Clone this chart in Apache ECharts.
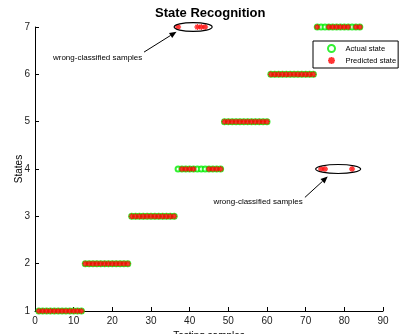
<!DOCTYPE html>
<html><head><meta charset="utf-8">
<script src="https://cdn.jsdelivr.net/npm/echarts@6/dist/echarts.min.js"></script>
<style>html,body{margin:0;padding:0;background:#fff}#c{width:400px;height:334px}</style>
</head><body><div id="c"></div>
<script>
var titleText = 'State Recognition';
var xName = 'Testing samples';
var yName = 'States';
var seriesNames = ['Actual state', 'Predicted state'];
var actualState = [
 1,1,1,1,1,1,1,1,1,1,1,1,
 2,2,2,2,2,2,2,2,2,2,2,2,
 3,3,3,3,3,3,3,3,3,3,3,3,
 4,4,4,4,4,4,4,4,4,4,4,4,
 5,5,5,5,5,5,5,5,5,5,5,5,
 6,6,6,6,6,6,6,6,6,6,6,6,
 7,7,7,7,7,7,7,7,7,7,7,7
];
var predictedState = [
 1,1,1,1,1,1,1,1,1,1,1,1,
 2,2,2,2,2,2,2,2,2,2,2,2,
 3,3,3,3,3,3,3,3,3,3,3,3,
 7,4,4,4,4,7,7,7,4,4,4,4,
 5,5,5,5,5,5,5,5,5,5,5,5,
 6,6,6,6,6,6,6,6,6,6,6,6,
 7,4,4,7,7,7,7,7,7,4,7,7
];
var xTicks = [0,10,20,30,40,50,60,70,80,90];
var yTicks = [1,2,3,4,5,6,7];
var annotationText = 'wrong-classified samples';

var FONT = '"Liberation Sans", Arial, Helvetica, sans-serif';
var chart = echarts.init(document.getElementById('c'));
function pts(arr){ return arr.map(function(v,i){ return [i+1, v]; }); }
var star = 'path://M0,-1L0,1M-1,0L1,0M-0.7,-0.7L0.7,0.7M-0.7,0.7L0.7,-0.7';
chart.setOption({
  animation:false,
  title:{text:titleText,left:155,top:7,padding:0,textStyle:{fontFamily:FONT,fontSize:13,fontWeight:'bold',color:'#000'}},
  grid:{left:35,right:17,top:27,bottom:23,containLabel:false,outerBoundsMode:'none'},
  legend:{orient:'vertical',left:313,top:41,borderColor:'#000',borderWidth:1,padding:[3,2,3,14],itemGap:3,itemWidth:10,itemHeight:7,
    textStyle:{fontFamily:FONT,fontSize:7.6,color:'#000',padding:[0,0,0,4]},data:[{name:seriesNames[0]},{name:seriesNames[1]}]},
  xAxis:{type:'value',min:xTicks[0],max:xTicks[xTicks.length-1],interval:10,name:xName,nameLocation:'middle',nameGap:20,nameMoveOverlap:false,
    nameTextStyle:{fontFamily:FONT,fontSize:10,color:'#000'},
    axisLine:{lineStyle:{color:'#000',width:1}},axisTick:{inside:true,length:4,lineStyle:{color:'#000'}},
    axisLabel:{fontFamily:FONT,fontSize:10,color:'#222',margin:5},splitLine:{show:false}},
  yAxis:{type:'value',min:yTicks[0],max:yTicks[yTicks.length-1],interval:1,name:yName,nameLocation:'middle',nameGap:11,nameMoveOverlap:false,
    nameTextStyle:{fontFamily:FONT,fontSize:10,color:'#000'},
    axisLine:{show:true,lineStyle:{color:'#000',width:1}},axisTick:{show:true,inside:true,length:4,lineStyle:{color:'#000'}},
    axisLabel:{fontFamily:FONT,fontSize:10,color:'#222',margin:5},splitLine:{show:false}},
  series:[
    {name:seriesNames[0],type:'scatter',data:pts(actualState),symbol:'emptyCircle',symbolSize:5,
      itemStyle:{color:'#00ee00',borderColor:'#00ee00',borderWidth:1},z:2},
    {name:seriesNames[1],type:'scatter',data:pts(predictedState),symbol:star,symbolSize:6,
      itemStyle:{color:'#ff0000',borderColor:'#ff0000',borderWidth:1.3},z:3}
  ]
});

var ann = [
  {ell:[40.9,7], rx:19, ry:4.4, from:[28.2,6.47], to:[36.6,6.90], text:[16.2,6.34]},
  {ell:[78.4,4], rx:22.5, ry:4.5, from:[69.8,3.40], to:[75.7,3.84], text:[57.7,3.30]}
];
var g = [];
ann.forEach(function(a){
  var c = chart.convertToPixel({gridIndex:0}, a.ell);
  var f = chart.convertToPixel({gridIndex:0}, a.from);
  var t = chart.convertToPixel({gridIndex:0}, a.to);
  var tx = chart.convertToPixel({gridIndex:0}, a.text);
  g.push({type:'ellipse',shape:{cx:c[0],cy:c[1],rx:a.rx,ry:a.ry},style:{fill:'none',stroke:'#000',lineWidth:1.2},z:10});
  var dx=t[0]-f[0], dy=t[1]-f[1], L=Math.sqrt(dx*dx+dy*dy), ux=dx/L, uy=dy/L;
  var hl=7, hw=3;
  var bx=t[0]-ux*hl, by=t[1]-uy*hl;
  g.push({type:'line',shape:{x1:f[0],y1:f[1],x2:bx,y2:by},style:{stroke:'#000',lineWidth:1},z:10});
  g.push({type:'polygon',shape:{points:[[t[0],t[1]],[bx-uy*hw,by+ux*hw],[bx+uy*hw,by-ux*hw]]},style:{fill:'#000'},z:10});
  g.push({type:'text',x:tx[0],y:tx[1],style:{text:annotationText,fontFamily:FONT,fontSize:8,fill:'#000',align:'center',verticalAlign:'middle'},z:10});
});
chart.setOption({graphic:g});
</script></body></html>
